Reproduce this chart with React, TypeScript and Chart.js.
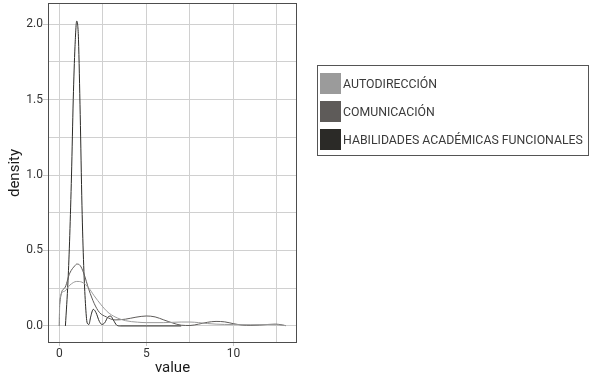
import React, { useEffect, useRef } from "react";
import { Chart, registerables } from "chart.js";

Chart.register(...registerables);

const seriesNames = ["AUTODIRECCIÓN", "COMUNICACIÓN", "HABILIDADES ACADÉMICAS FUNCIONALES"];
const seriesColors = ["#9b9b9b", "#5e5b59", "#2b2a27"];

const autoX = [0, 0.02, 0.3, 0.6, 1.0, 1.3, 1.7, 2.0, 2.4, 2.8, 3.2, 3.8, 4.5, 5.0, 6.0, 7.0, 7.5, 8.0, 8.5, 9.0, 10.0, 11.0, 12.0, 12.5, 13.0];
const autoY = [0, 0.17, 0.23, 0.27, 0.295, 0.29, 0.25, 0.2, 0.14, 0.09, 0.06, 0.035, 0.025, 0.022, 0.022, 0.026, 0.026, 0.022, 0.016, 0.012, 0.009, 0.008, 0.009, 0.008, 0.002];

const comX = [0, 0.02, 0.3, 0.6, 0.9, 1.0, 1.2, 1.4, 1.7, 2.0, 2.3, 2.7, 3.2, 3.8, 4.4, 5.0, 5.5, 6.0, 6.5, 7.0, 7.5, 8.0, 8.5, 9.0, 9.5, 10.0, 10.5, 11.0, 11.5, 12.0, 12.4, 12.8, 13.0];
const comY = [0, 0.14, 0.25, 0.35, 0.4, 0.41, 0.4, 0.35, 0.24, 0.15, 0.09, 0.06, 0.04, 0.045, 0.058, 0.066, 0.06, 0.04, 0.02, 0.005, 0.003, 0.012, 0.024, 0.03, 0.027, 0.015, 0.006, 0.004, 0.006, 0.01, 0.012, 0.007, 0.002];

const habX = [0.35, 0.5, 0.6, 0.7, 0.8, 0.9, 1.0, 1.05, 1.1, 1.2, 1.3, 1.4, 1.5, 1.6, 1.7, 1.8, 1.95, 2.1, 2.3, 2.45, 2.6, 2.8, 2.95, 3.1, 3.3, 3.5, 5.0, 7.0];
const habY = [0, 0.3, 0.6, 1.0, 1.5, 1.85, 2.02, 2.0, 1.9, 1.4, 0.8, 0.4, 0.15, 0.02, 0.01, 0.06, 0.11, 0.09, 0.03, 0.01, 0.02, 0.06, 0.065, 0.04, 0.005, 0, 0, 0];

const xTickValues = [0, 5, 10];
const xTickLabels = ["0", "5", "10"];
const yTickValues = [0, 0.5, 1, 1.5, 2];
const yTickLabels = ["0.0", "0.5", "1.0", "1.5", "2.0"];

const toPoints = (xs: number[], ys: number[]) => xs.map((x, i) => ({ x, y: ys[i] }));
const isMajor = (vals: number[], v: number) => vals.some((t) => Math.abs(t - v) < 1e-6);

const panelBorder = {
  id: "panelBorder",
  beforeDatasetsDraw(chart: any) {
    const { ctx, chartArea } = chart;
    ctx.save();
    ctx.strokeStyle = "#4d4d4d";
    ctx.lineWidth = 1;
    ctx.strokeRect(chartArea.left + 0.5, chartArea.top + 0.5, chartArea.right - chartArea.left - 1, chartArea.bottom - chartArea.top - 1);
    ctx.restore();
  },
};

export default function App() {
  const ref = useRef<HTMLCanvasElement | null>(null);

  useEffect(() => {
    if (!ref.current) return;
    const font = "Roboto";
    const chart = new Chart(ref.current, {
      type: "line",
      data: {
        datasets: [
          { label: seriesNames[0], data: toPoints(autoX, autoY), borderColor: seriesColors[0] },
          { label: seriesNames[1], data: toPoints(comX, comY), borderColor: seriesColors[1] },
          { label: seriesNames[2], data: toPoints(habX, habY), borderColor: seriesColors[2] },
        ].map((d) => ({
          ...d,
          borderWidth: 1,
          pointRadius: 0,
          fill: false,
          cubicInterpolationMode: "monotone" as const,
        })),
      },
      options: {
        responsive: false,
        animation: false,
        events: [],
        layout: { padding: { top: 3, right: 296, left: 0, bottom: 0 } },
        plugins: { legend: { display: false }, tooltip: { enabled: false } },
        scales: {
          x: {
            type: "linear",
            min: -0.65,
            max: 13.65,
            afterFit: (s: any) => { s.height = 34; s.paddingLeft = 0; s.paddingRight = 0; },
            grid: {
              color: "#d0d0d0",
              lineWidth: 1,
              drawTicks: true,
              tickLength: 3,
              tickColor: (c: any) => (c.tick && isMajor(xTickValues, c.tick.value) ? "#c8c8c8" : "rgba(0,0,0,0)"),
            },
            border: { display: false },
            ticks: {
              stepSize: 2.5,
              includeBounds: false,
              autoSkip: false,
              maxRotation: 0,
              padding: 1,
              color: "#333333",
              font: { family: font, size: 12 },
              callback: (v: any) => {
                const i = xTickValues.findIndex((t) => Math.abs(t - Number(v)) < 1e-6);
                return i >= 0 ? xTickLabels[i] : "";
              },
            },
            title: { display: true, text: "value", color: "#1a1a1a", font: { family: font, size: 15 }, padding: { top: 0, bottom: 0 } },
          },
          y: {
            type: "linear",
            min: -0.113,
            max: 2.14,
            afterFit: (s: any) => { s.width = 48; s.paddingTop = 0; s.paddingBottom = 0; },
            grid: {
              color: "#d0d0d0",
              lineWidth: 1,
              drawTicks: true,
              tickLength: 5,
              tickColor: (c: any) => (c.tick && isMajor(yTickValues, c.tick.value) ? "#c8c8c8" : "rgba(0,0,0,0)"),
            },
            border: { display: false },
            ticks: {
              stepSize: 0.25,
              includeBounds: false,
              autoSkip: false,
              padding: 0,
              color: "#333333",
              font: { family: font, size: 12 },
              callback: (v: any) => {
                const i = yTickValues.findIndex((t) => Math.abs(t - Number(v)) < 1e-6);
                return i >= 0 ? yTickLabels[i] : "";
              },
            },
            title: { display: true, text: "density", color: "#1a1a1a", font: { family: font, size: 15 }, padding: { top: 6, bottom: 0 } },
          },
        },
      },
      plugins: [panelBorder],
    });
    return () => chart.destroy();
  }, []);

  return (
    <div style={{ position: "absolute", left: 0, top: 0, width: 593, height: 377, background: "#fff" }}>
      <canvas ref={ref} width={593} height={377} style={{ display: "block" }} />
      <div
        style={{
          position: "absolute",
          left: 317,
          top: 65,
          width: 272,
          height: 91,
          border: "1px solid #555",
          boxSizing: "border-box",
          fontFamily: "Roboto",
          fontSize: 12.3,
          color: "#3a3a3a",
        }}
      >
        {seriesNames.map((name, i) => (
          <div key={name} style={{ position: "absolute", left: 2, top: 7 + i * 28, height: 21, display: "flex", alignItems: "center", whiteSpace: "nowrap" }}>
            <div style={{ width: 21, height: 21, background: seriesColors[i], marginRight: 2 }} />
            <span>{name}</span>
          </div>
        ))}
      </div>
    </div>
  );
}
